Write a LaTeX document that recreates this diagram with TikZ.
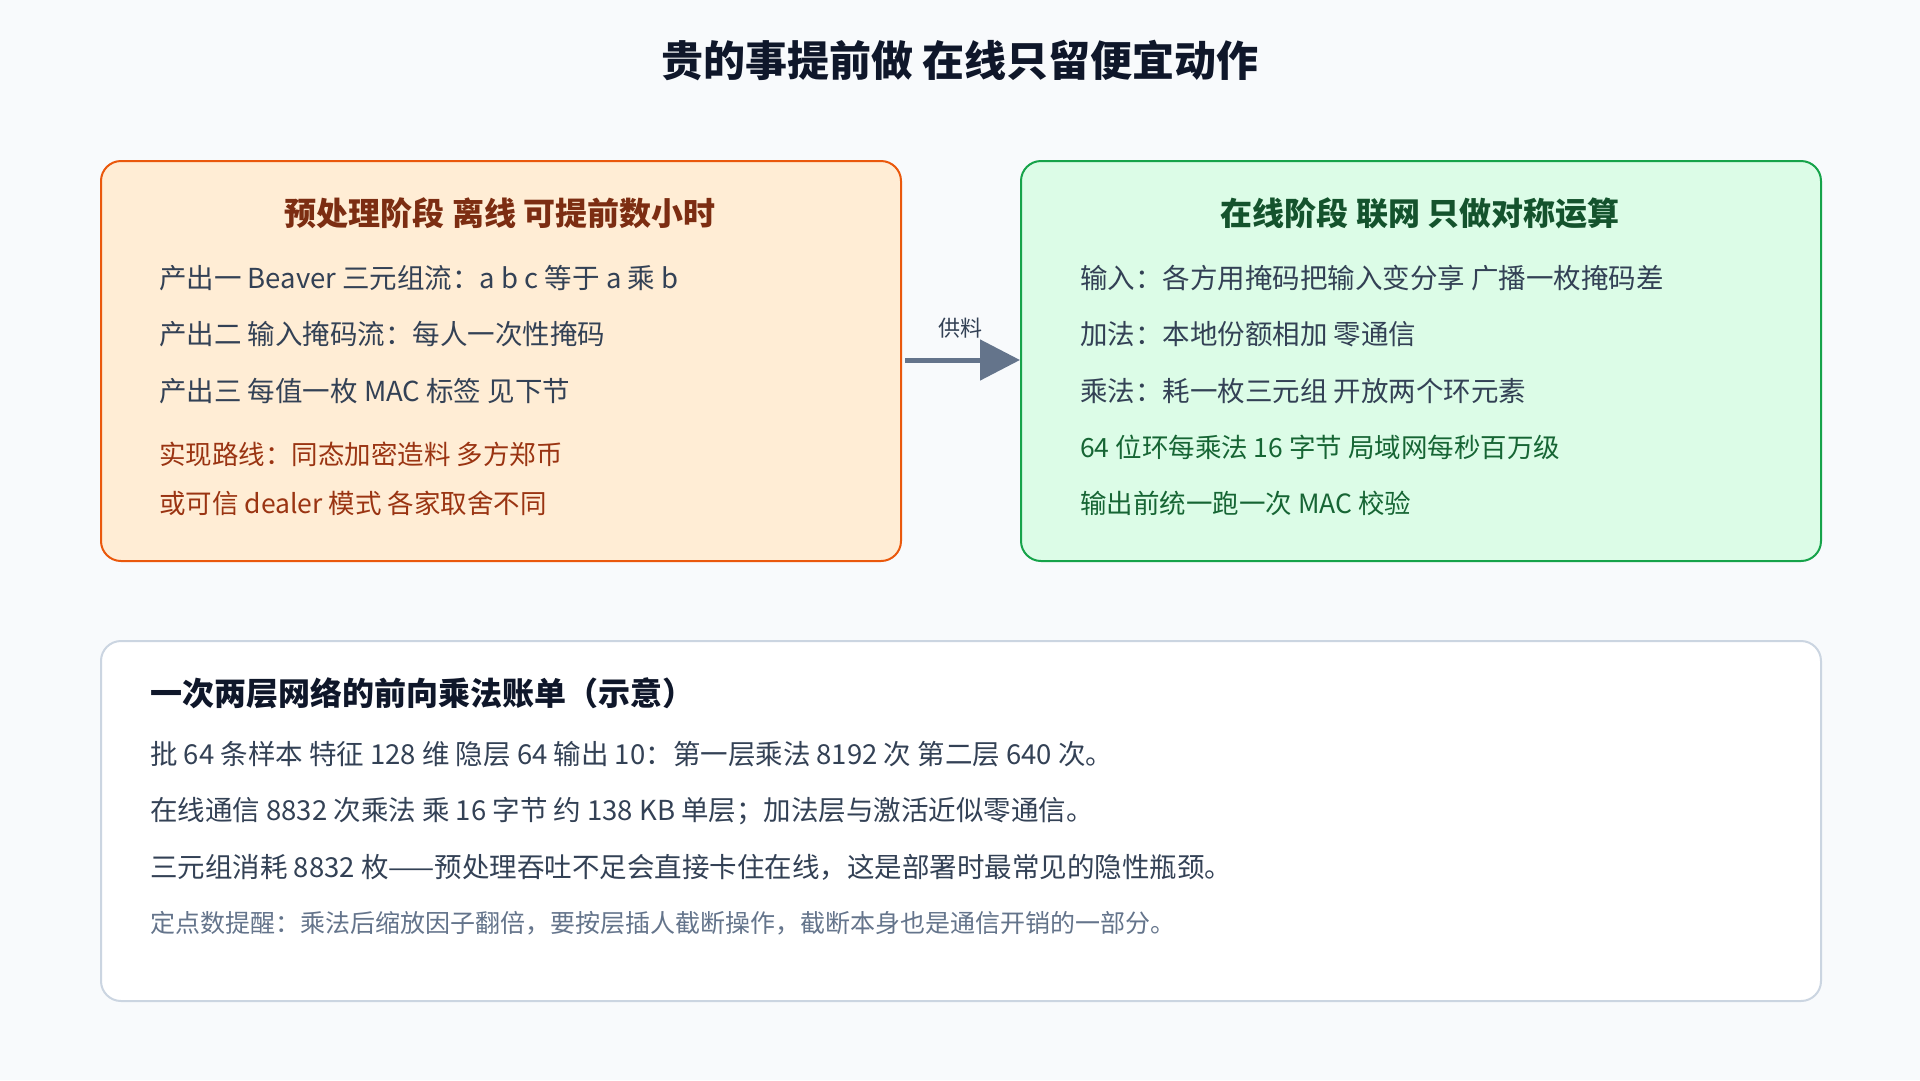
\documentclass[tikz,border=0pt]{standalone}
\usepackage{fontspec}
\setmainfont{Noto Sans CJK SC}
\usetikzlibrary{arrows.meta}
\definecolor{bgc}{HTML}{F8FAFC}
\definecolor{orfill}{HTML}{FFEDD5}
\definecolor{ordraw}{HTML}{EA580C}
\definecolor{ortitle}{HTML}{7C2D12}
\definecolor{ortext}{HTML}{9A3412}
\definecolor{grfill}{HTML}{DCFCE7}
\definecolor{grdraw}{HTML}{16A34A}
\definecolor{grtitle}{HTML}{14532D}
\definecolor{grtext}{HTML}{166534}
\definecolor{slate}{HTML}{334155}
\definecolor{slatemid}{HTML}{64748B}
\definecolor{bordergray}{HTML}{CBD5E1}
\definecolor{ink}{HTML}{0F172A}
\tikzset{
  panel/.style={rounded corners=20pt, line width=2pt, minimum width=800pt, minimum height=400pt, inner sep=0pt, anchor=north west},
  bodytext/.style={anchor=west, inner sep=0pt, font=\fontsize{27.5}{32}\selectfont, text=slate},
  hltext/.style={anchor=west, inner sep=0pt, font=\fontsize{26.5}{30}\selectfont},
  boxtitle/.style={inner sep=0pt, font=\fontsize{32}{36}\selectfont\bfseries},
}
\begin{document}
\begin{tikzpicture}[x=1pt,y=-1pt]
\fill[bgc] (0,0) rectangle (1920,1080);
\useasboundingbox (0,0) rectangle (1920,1080);

\node[inner sep=0pt, font=\fontsize{42}{46}\selectfont\bfseries, text=ink] (title) at (960,61) {贵的事提前做 在线只留便宜动作};

\node[panel, draw=ordraw, fill=orfill] (pre) at (100,160) {};
\node[panel, draw=grdraw, fill=grfill] (onl) at (1020,160) {};
\node[panel, draw=bordergray, fill=white, minimum width=1720pt, minimum height=360pt] (bill) at (100,640) {};

\node[boxtitle, text=ortitle] (pret) at (500,213) {预处理阶段 离线 可提前数小时};
\node[bodytext] (p1) at (159,278) {产出一 Beaver 三元组流：a b c 等于 a 乘 b};
\node[bodytext] (p2) at (159,334) {产出二 输入掩码流：每人一次性掩码};
\node[bodytext] (p3) at (159,391) {产出三 每值一枚 MAC 标签 见下节};
\node[hltext, text=ortext] (p4) at (159,454) {实现路线：同态加密造料 多方郑币};
\node[hltext, text=ortext] (p5) at (159,503) {或可信 dealer 模式 各家取舍不同};

\node[boxtitle, text=grtitle] (onlt) at (1420,213) {在线阶段 联网 只做对称运算};
\node[bodytext] (o1) at (1080,278) {输入：各方用掩码把输入变分享 广播一枚掩码差};
\node[bodytext] (o2) at (1080,334) {加法：本地份额相加 零通信};
\node[bodytext] (o3) at (1080,391) {乘法：耗一枚三元组 开放两个环元素};
\node[hltext, text=grtext] (o4) at (1080,447) {64 位环每乘法 16 字节 局域网每秒百万级};
\node[hltext, text=grtext] (o5) at (1080,503) {输出前统一跑一次 MAC 校验};

\draw[slatemid, line width=5pt, shorten <=3pt, -{Triangle[length=40pt,width=40pt]}] (pre.east |- 0,360) -- (onl.west |- 0,360);
\node[inner sep=0pt, font=\fontsize{22}{26}\selectfont, text=slate] (feed) at (960,328) {供料};

\node[anchor=west, inner sep=0pt, font=\fontsize{32}{36}\selectfont\bfseries, text=ink] (billt) at (150,693) {一次两层网络的前向乘法账单（示意）};
\node[bodytext] (b1) at (150,754) {批 64 条样本 特征 128 维 隐层 64 输出 10：第一层乘法 8192 次 第二层 640 次。};
\node[bodytext] (b2) at (150,811) {在线通信 8832 次乘法 乘 16 字节 约 138 KB 单层；加法层与激活近似零通信。};
\node[bodytext] (b3) at (150,867) {三元组消耗 8832 枚——预处理吞吐不足会直接卡住在线，这是部署时最常见的隐性瓶颈。};
\node[bodytext, text=slatemid, font=\fontsize{25}{28}\selectfont] (b4) at (150,923) {定点数提醒：乘法后缩放因子翻倍，要按层插人截断操作，截断本身也是通信开销的一部分。};
\end{tikzpicture}
\end{document}
